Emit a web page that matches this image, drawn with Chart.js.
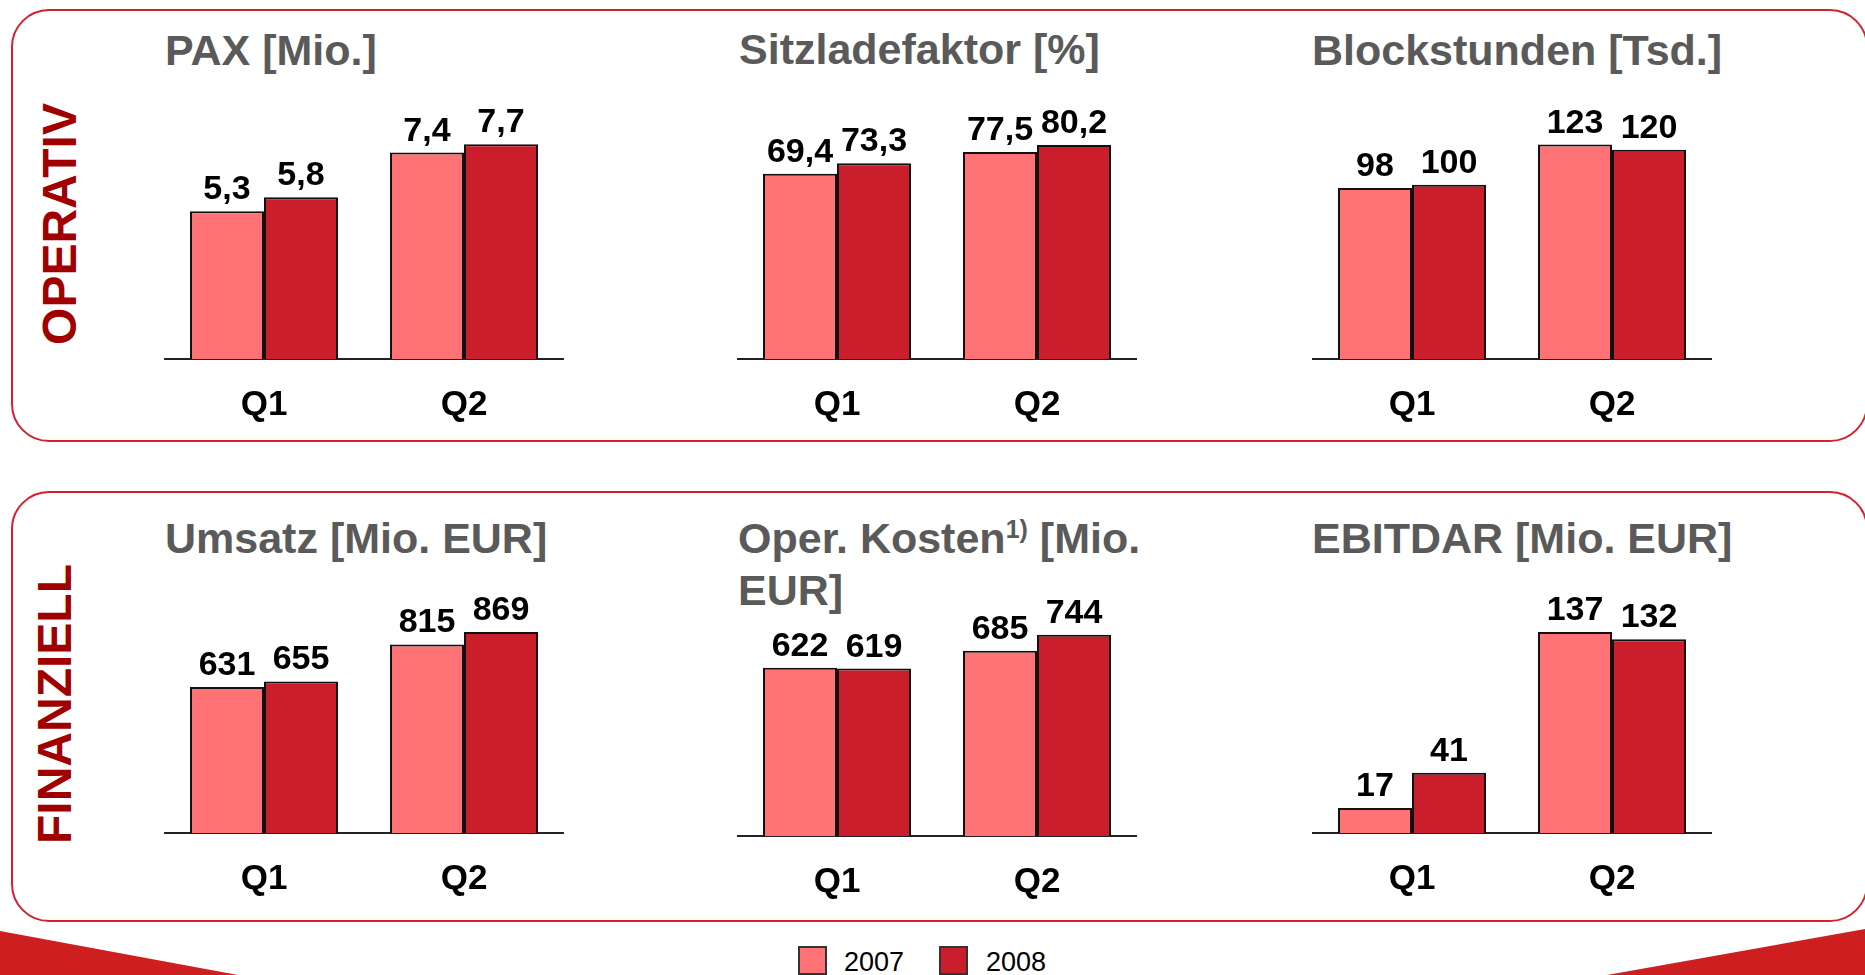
<!DOCTYPE html>
<html lang="de">
<head>
<meta charset="utf-8">
<title>Operativ / Finanziell – Q1 und Q2, 2007 gegen 2008</title>
<script src="https://cdn.jsdelivr.net/npm/chart.js@4.4.1/dist/chart.umd.min.js"></script>
<style>
  html, body { margin: 0; padding: 0; background: #fff; }
  body { width: 1865px; height: 975px; position: relative; overflow: hidden;
         font-family: 'Liberation Sans', Arial, sans-serif; }
  .box { position: absolute; border: 2px solid #d3222f; border-radius: 38px; box-sizing: border-box; }
  .side { position: absolute; font-weight: bold; font-size: 48px; line-height: 1; color: #a00000;
          white-space: nowrap; transform: translate(-50%, -50%) rotate(-90deg); }
  .title { position: absolute; font-weight: bold; font-size: 43px; line-height: 52px; color: #5a5a5a;
           white-space: nowrap; }
  .title sup { font-size: 25px; line-height: 0; vertical-align: 15px; }
  .chart { position: absolute; }
  .legend { position: absolute; top: 946px; font-size: 27px; line-height: 32px; color: #000; }
  .swatch { position: absolute; top: 946px; width: 29px; height: 29px; box-sizing: border-box;
            border: 2px solid #333; }
  svg.deco { position: absolute; left: 0; top: 0; }
</style>
</head>
<body>

<svg class="deco" width="1865" height="975">
  <path d="M0,931 L238,975 L0,975 Z" fill="#cd1f1f"/>
  <path d="M1607,975 L1865,929 L1865,975 Z" fill="#cd1f1f"/>
</svg>

<div class="box" style="left:11px; top:9px; width:1857px; height:433px;"></div>
<div class="box" style="left:11px; top:491px; width:1857px; height:431px;"></div>

<div class="side" style="left:60px; top:224px;">OPERATIV</div>
<div class="side" style="left:55px; top:704px;">FINANZIELL</div>

<div class="title" style="left:165px; top:24px;">PAX [Mio.]</div>
<div class="title" style="left:739px; top:23px;">Sitzladefaktor [%]</div>
<div class="title" style="left:1312px; top:24px;">Blockstunden [Tsd.]</div>
<div class="title" style="left:165px; top:512px;">Umsatz [Mio. EUR]</div>
<div class="title" style="left:738px; top:512px;">Oper. Kosten<sup>1)</sup> [Mio.<br>EUR]</div>
<div class="title" style="left:1312px; top:512px;">EBITDAR [Mio. EUR]</div>

<canvas id="paxChart" class="chart"></canvas>
<canvas id="sitzChart" class="chart"></canvas>
<canvas id="blockChart" class="chart"></canvas>
<canvas id="umsatzChart" class="chart"></canvas>
<canvas id="kostenChart" class="chart"></canvas>
<canvas id="ebitdarChart" class="chart"></canvas>

<div class="swatch" style="left:798px; background:#ff7377;"></div>
<div class="legend" style="left:844px;">2007</div>
<div class="swatch" style="left:939px; background:#cb1e2d;"></div>
<div class="legend" style="left:986px;">2008</div>

<script>
// Kategorien und Serien
const quarters = ['Q1', 'Q2'];
const years = ['2007', '2008'];

const pax2007 = [5.3, 7.4];
const pax2008 = [5.8, 7.7];

const sitz2007 = [69.4, 77.5];
const sitz2008 = [73.3, 80.2];

const block2007 = [98, 123];
const block2008 = [100, 120];

const umsatz2007 = [631, 815];
const umsatz2008 = [655, 869];

const kosten2007 = [622, 685];
const kosten2008 = [619, 744];

const ebitdar2007 = [17, 137];
const ebitdar2008 = [41, 132];

const color2007 = '#ff7377';
const color2008 = '#cb1e2d';

// Position der einzelnen Diagramme auf der Seite
const panels = [
    { id: 'paxChart',     a: pax2007,     b: pax2008,     digits: 1, left: 164,  top: 80,  axisY: 359, yMax: 10 },
    { id: 'sitzChart',    a: sitz2007,    b: sitz2008,    digits: 1, left: 737,  top: 80,  axisY: 359, yMax: 104.5 },
    { id: 'blockChart',   a: block2007,   b: block2008,   digits: 0, left: 1312, top: 80,  axisY: 359, yMax: 160 },
    { id: 'umsatzChart',  a: umsatz2007,  b: umsatz2008,  digits: 0, left: 164,  top: 560, axisY: 833, yMax: 1180 },
    { id: 'kostenChart',  a: kosten2007,  b: kosten2008,  digits: 0, left: 737,  top: 560, axisY: 836, yMax: 1020 },
    { id: 'ebitdarChart', a: ebitdar2007, b: ebitdar2008, digits: 0, left: 1312, top: 560, axisY: 833, yMax: 186 }
];

const CHART_WIDTH = 400;
const AXIS_HEIGHT = 70;

// Werte über den Balken (deutsches Dezimalkomma)
function valueLabels(digits) {
    return {
        id: 'valueLabels',
        afterDatasetsDraw(chart) {
            const ctx = chart.ctx;
            ctx.save();
            ctx.font = 'bold 34px "Liberation Sans", Arial, sans-serif';
            ctx.fillStyle = '#000';
            ctx.textAlign = 'center';
            ctx.textBaseline = 'alphabetic';
            chart.data.datasets.forEach((ds, i) => {
                chart.getDatasetMeta(i).data.forEach((bar, j) => {
                    const txt = ds.data[j].toFixed(digits).replace('.', ',');
                    ctx.fillText(txt, bar.x, bar.y - 12);
                });
            });
            ctx.restore();
        }
    };
}

window.onload = function() {
    panels.forEach(p => {
        const canvas = document.getElementById(p.id);
        const h = p.axisY - p.top + AXIS_HEIGHT;
        canvas.width = CHART_WIDTH;
        canvas.height = h;
        canvas.style.left = p.left + 'px';
        canvas.style.top = p.top + 'px';
        canvas.style.width = CHART_WIDTH + 'px';
        canvas.style.height = h + 'px';

        new Chart(canvas.getContext('2d'), {
            type: 'bar',
            data: {
                labels: quarters,
                datasets: [
                    { label: years[0], data: p.a, backgroundColor: color2007, borderColor: '#111', borderWidth: 2 },
                    { label: years[1], data: p.b, backgroundColor: color2008, borderColor: '#111', borderWidth: 2 }
                ]
            },
            options: {
                responsive: false,
                animation: false,
                events: [],
                layout: { padding: 0 },
                datasets: { bar: { categoryPercentage: 0.74, barPercentage: 1.0 } },
                plugins: { legend: { display: false }, tooltip: { enabled: false } },
                scales: {
                    x: {
                        grid: { display: false, drawTicks: false },
                        border: { display: true, color: '#222', width: 2 },
                        ticks: {
                            color: '#000',
                            padding: 25,
                            maxRotation: 0,
                            autoSkip: false,
                            font: { family: 'Liberation Sans', size: 35, weight: 'bold' }
                        },
                        afterFit(scale) { scale.height = AXIS_HEIGHT; }
                    },
                    y: { display: false, min: 0, max: p.yMax }
                }
            },
            plugins: [valueLabels(p.digits)]
        });
    });
};
</script>
</body>
</html>
